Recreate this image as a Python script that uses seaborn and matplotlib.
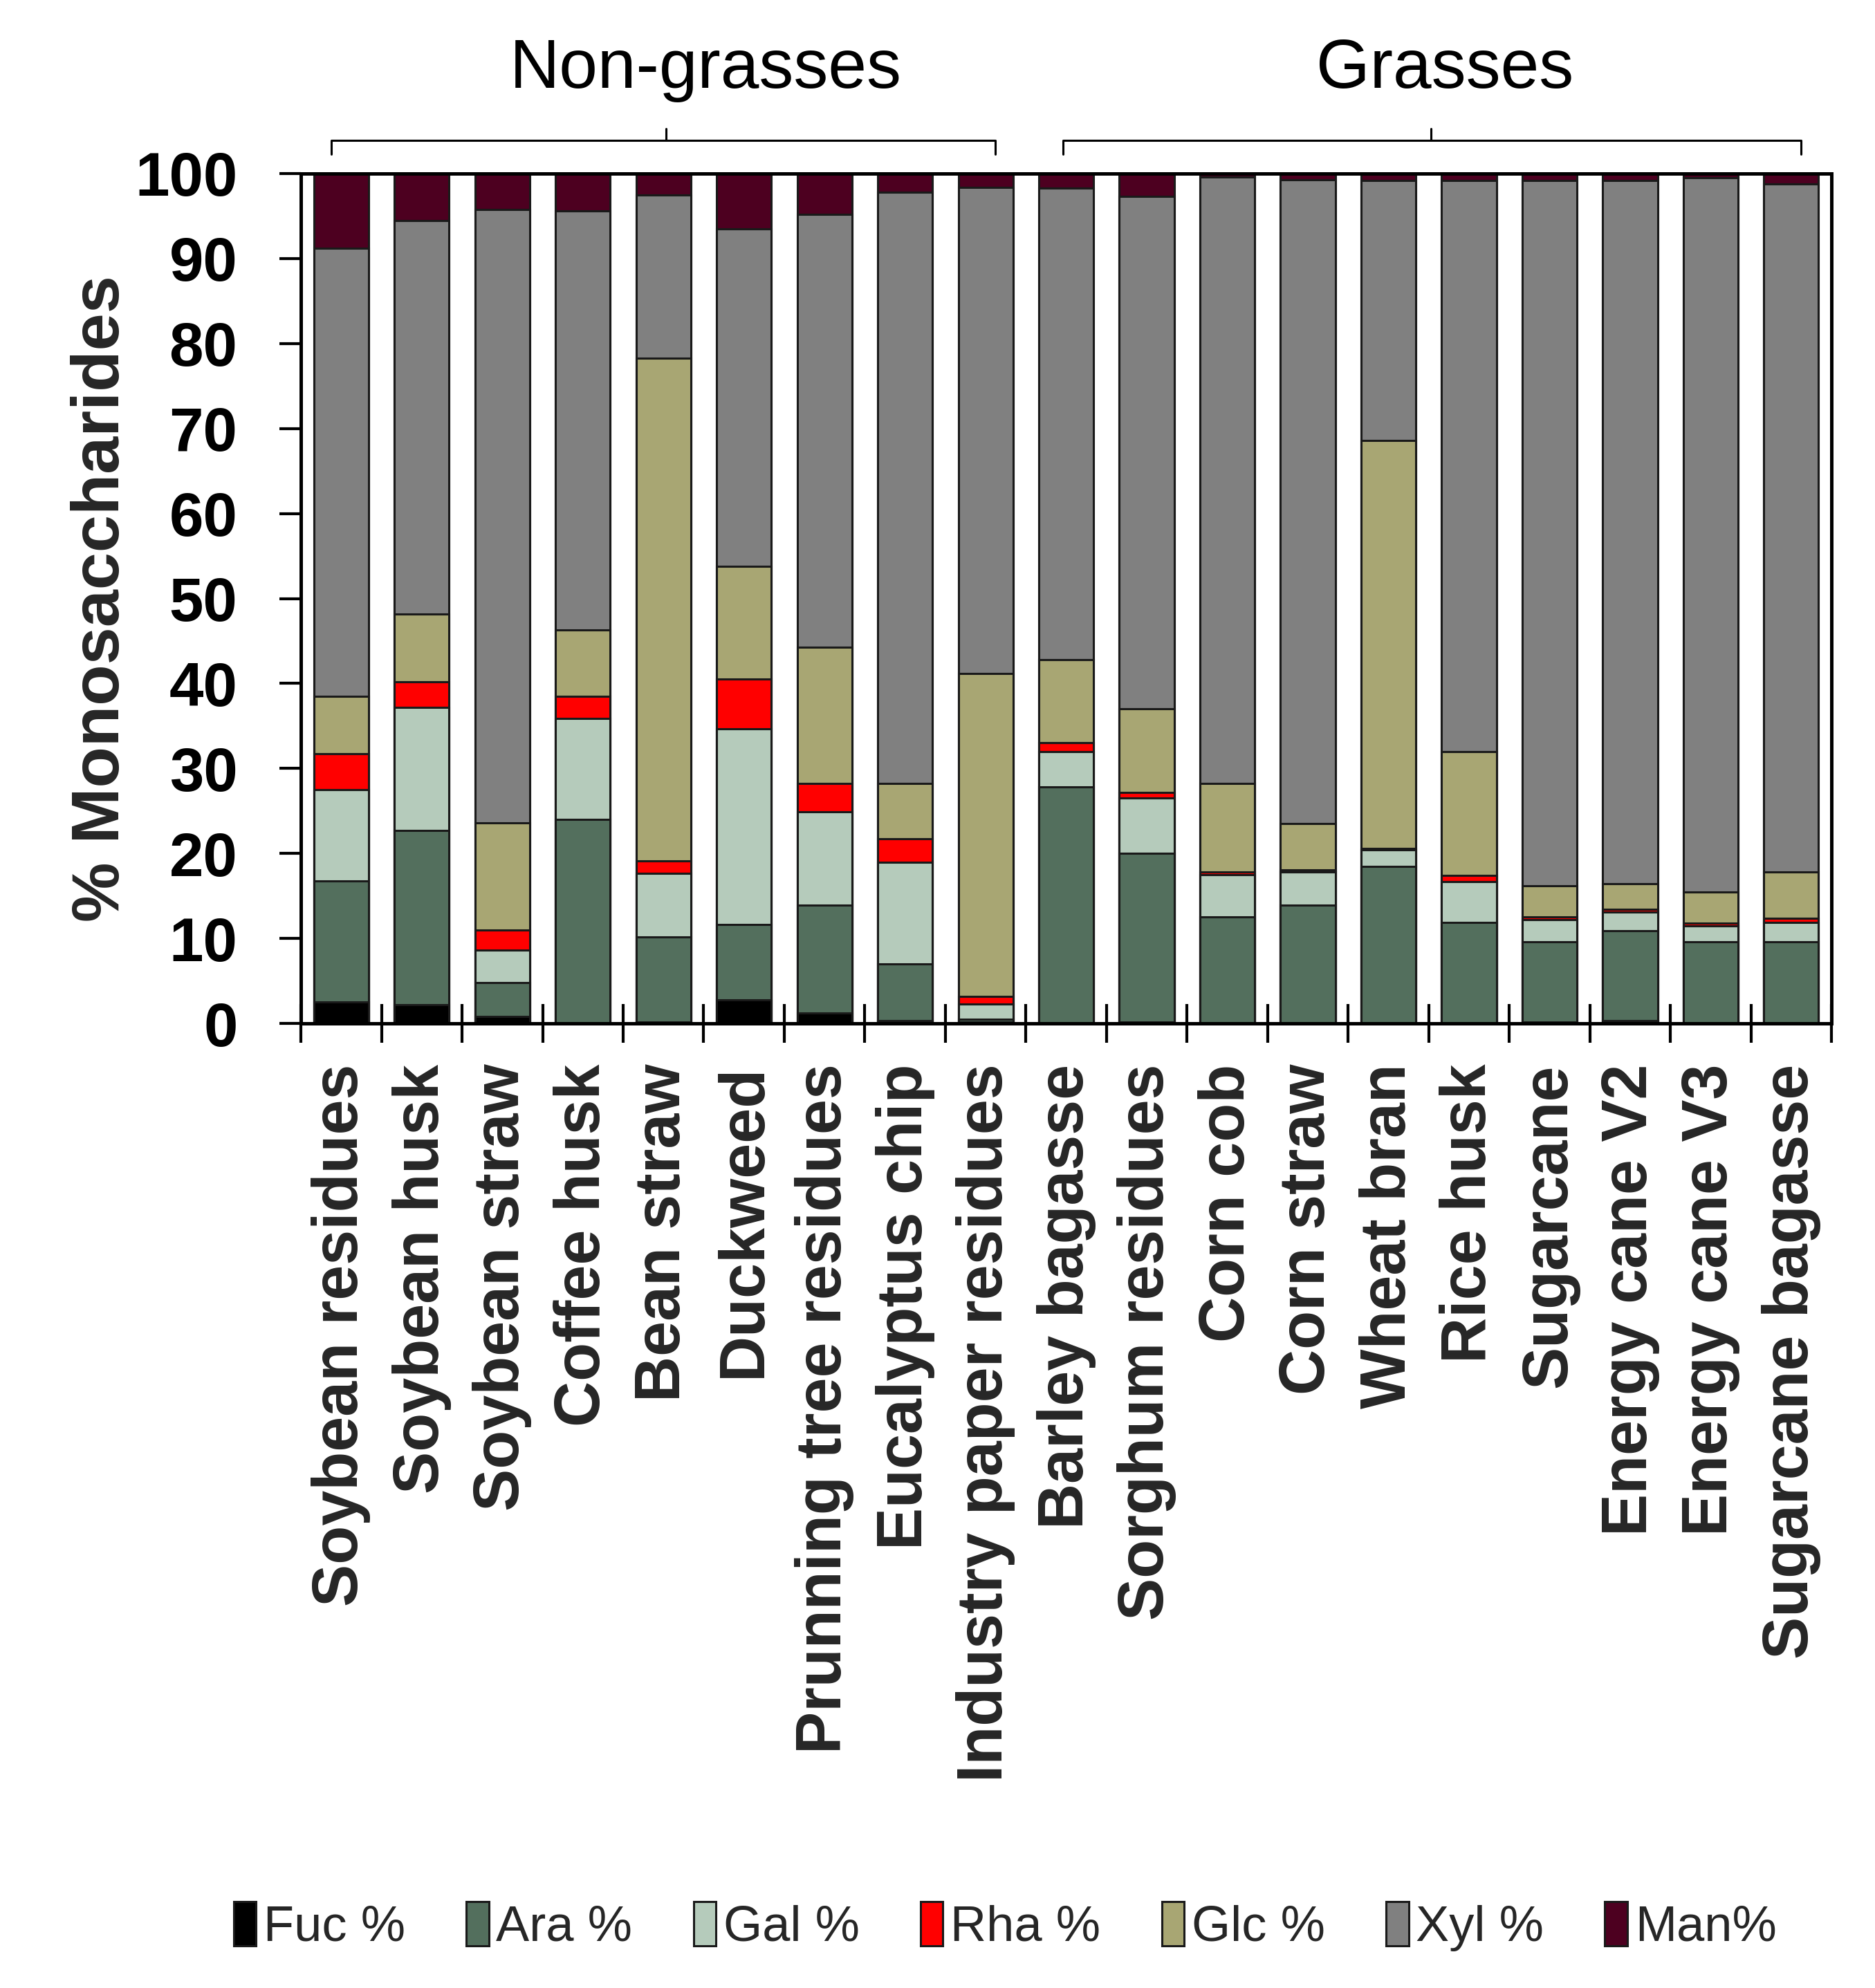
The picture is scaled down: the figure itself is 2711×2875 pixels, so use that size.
import numpy as np
import pandas as pd
import matplotlib
matplotlib.use("Agg")
import matplotlib.pyplot as plt
from matplotlib.patches import Patch
import seaborn as sns

# ----------------------------------------------------------
# data (% of total monosaccharides)
# ----------------------------------------------------------
samples = [
    "Soybean residues", "Soybean husk", "Soybean straw", "Coffee husk",
    "Bean straw", "Duckweed", "Prunning tree residues", "Eucalyptus chip",
    "Industry paper residues", "Barley bagasse", "Sorghum residues",
    "Corn cob", "Corn straw", "Wheat bran", "Rice husk", "Sugarcane",
    "Energy cane V2", "Energy cane V3", "Sugarcane bagasse",
]

fuc = [2.5, 2.2, 0.8, 0.0, 0.2, 2.8, 1.2, 0.3, 0.2, 0.0,
       0.2, 0.0, 0.0, 0.0, 0.0, 0.2, 0.3, 0.0, 0.0]
ara = [14.3, 20.5, 4.0, 24.0, 10.0, 8.8, 12.7, 6.7, 0.3, 27.8,
       19.8, 12.5, 13.9, 18.5, 11.9, 9.4, 10.6, 9.6, 9.6]
gal = [10.7, 14.5, 3.8, 11.9, 7.5, 23.1, 11.0, 12.0, 1.8, 4.2,
       6.5, 5.0, 3.9, 1.9, 4.8, 2.6, 2.2, 1.9, 2.3]
rha = [4.2, 3.0, 2.4, 2.6, 1.4, 5.8, 3.3, 2.7, 0.9, 1.0,
       0.7, 0.3, 0.3, 0.2, 0.7, 0.3, 0.3, 0.3, 0.5]
glc = [6.8, 8.0, 12.6, 7.8, 59.2, 13.3, 16.1, 6.5, 38.0, 9.8,
       9.8, 10.4, 5.4, 48.0, 14.6, 3.7, 3.0, 3.7, 5.4]
xyl = [52.7, 46.3, 72.2, 49.3, 19.2, 39.7, 50.9, 69.6, 57.2, 55.5,
       60.3, 71.4, 75.8, 30.6, 67.2, 83.0, 82.8, 84.0, 81.0]
man = [8.8, 5.5, 4.2, 4.4, 2.5, 6.5, 4.8, 2.2, 1.6, 1.7,
       2.7, 0.4, 0.7, 0.8, 0.8, 0.8, 0.8, 0.5, 1.2]

sugar_names = ["Fuc %", "Ara %", "Gal %", "Rha %", "Glc %", "Xyl %", "Man%"]
sugar_colors = ["#000000", "#536f5d", "#b5cbbb", "#ff0000",
                "#a8a673", "#808080", "#4d0020"]

groups = ["Non-grasses", "Grasses"]
group_span = [(0, 8), (9, 18)]

df = pd.DataFrame({"Sample": samples, "Fuc %": fuc, "Ara %": ara,
                   "Gal %": gal, "Rha %": rha, "Glc %": glc,
                   "Xyl %": xyl, "Man%": man})

# cumulative tops for stacking
cum = df[sugar_names].cumsum(axis=1)
for name in sugar_names:
    df["top " + name] = cum[name]

# ----------------------------------------------------------
# figure
# ----------------------------------------------------------
sns.set_style("ticks")
plt.rcParams["font.family"] = ["Liberation Sans", "DejaVu Sans"]

fig = plt.figure(figsize=(13.555, 14.375), dpi=200)
ax = fig.add_axes([0.1605, 0.4852, 0.8163, 0.4275])

edge = "#1a1a1a"
for name, color in reversed(list(zip(sugar_names, sugar_colors))):
    sns.barplot(data=df, x="Sample", y="top " + name, order=samples,
                color=color, saturation=1, width=0.68, errorbar=None,
                edgecolor=edge, linewidth=1.1, ax=ax)

ax.set_xlim(-0.5, len(samples) - 0.5)
ax.set_ylim(0, 100)
ax.set_yticks(np.arange(0, 101, 10))

for side in ["left", "bottom", "top", "right"]:
    ax.spines[side].set_visible(True)
    ax.spines[side].set_linewidth(1.8)
    ax.spines[side].set_color("black")

ax.tick_params(axis="y", direction="out", length=11, width=1.5,
               pad=22, labelsize=32, colors="black")
for lab in ax.get_yticklabels():
    lab.set_fontweight("bold")

ax.set_xticks(range(len(samples)))
ax.set_xticklabels(samples, rotation=90, fontsize=33, fontweight="bold")
ax.tick_params(axis="x", which="major", length=0, pad=21)
ax.set_xticks(np.arange(-0.5, len(samples), 1.0), minor=True)
ax.tick_params(axis="x", which="minor", direction="inout",
               length=20, width=1.5, color="black")

ax.set_xlabel("")
ax.set_ylabel("% Monosaccharides", fontsize=35, fontweight="bold")
ax.yaxis.set_label_coords(-0.11, 0.5)

# group brackets and headers
label_x = [4.52, 13.70]
for g, (i0, i1), lx in zip(groups, group_span, label_x):
    x0, x1 = i0 - 0.12 + (0.08 if i0 else 0), i1 + 0.12
    xm = (i0 + i1) / 2 + 0.03
    ax.plot([x0, x0, x1, x1], [102.3, 103.9, 103.9, 102.3],
            color="black", lw=1.1, clip_on=False)
    ax.plot([xm, xm], [103.9, 105.3], color="black", lw=1.1, clip_on=False)
    ax.text(lx, 112.2, g, ha="center", va="center",
            fontsize=36, color="black", clip_on=False)

# legend
handles = [Patch(facecolor=c, edgecolor=edge, linewidth=1.1, label=n)
           for n, c in zip(sugar_names, sugar_colors)]
fig.legend(handles=handles, loc="center", bbox_to_anchor=(0.536, 0.031),
           ncol=7, frameon=False, fontsize=26, handlelength=0.45,
           handleheight=1.0, handletextpad=0.15, columnspacing=1.22,
           borderaxespad=0)

fig.savefig("out.png", dpi=200)
